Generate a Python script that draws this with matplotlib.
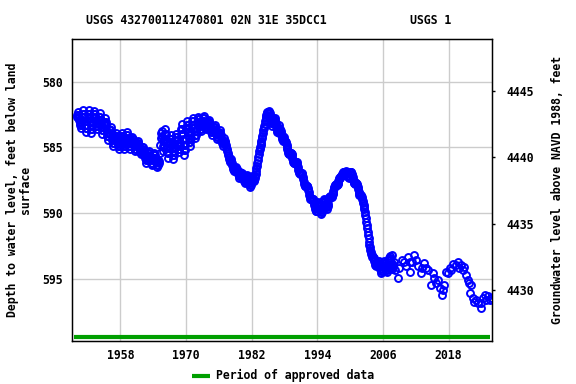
#!/usr/bin/env python3
# -*- coding: utf-8 -*-
"""
USGS groundwater level chart for site 432700112470801 (02N 31E 35DCC1).
Depth to water (left, inverted) with the matching NAVD 1988 elevation on the right.
"""

import numpy as np
import matplotlib.pyplot as plt

# ---- data ----
# 1950-2007: dense record, monthly readings Jan..Dec, one row per year (feet below land surface)
dense_start_year = 1950
monthly_depth = [
    582.71, 582.50, 582.30, 582.50, 582.71, 582.91, 583.11, 583.32, 583.52, 583.32, 583.11, 582.91,  # 1950
    582.71, 582.43, 582.15, 582.43, 582.71, 582.99, 583.26, 583.54, 583.82, 583.54, 583.26, 582.99,  # 1951
    582.73, 582.44, 582.15, 582.44, 582.73, 583.03, 583.32, 583.61, 583.90, 583.61, 583.32, 583.03,  # 1952
    582.68, 582.46, 582.23, 582.46, 582.68, 582.91, 583.14, 583.36, 583.59, 583.36, 583.14, 582.91,  # 1953
    582.91, 582.65, 582.38, 582.65, 582.91, 583.18, 583.44, 583.71, 583.97, 583.71, 583.44, 583.18,  # 1954
    583.32, 583.04, 582.76, 583.04, 583.32, 583.60, 583.87, 584.15, 584.43, 584.15, 583.87, 583.60,  # 1955
    583.92, 583.68, 583.44, 583.68, 583.92, 584.17, 584.41, 584.65, 584.89, 584.65, 584.41, 584.17,  # 1956
    584.30, 584.10, 583.90, 584.10, 584.30, 584.51, 584.71, 584.91, 585.11, 584.91, 584.71, 584.51,  # 1957
    584.30, 584.10, 583.90, 584.10, 584.30, 584.51, 584.71, 584.91, 585.11, 584.91, 584.71, 584.51,  # 1958
    584.25, 584.04, 583.82, 584.04, 584.25, 584.47, 584.68, 584.90, 585.11, 584.90, 584.68, 584.47,  # 1959
    584.56, 584.38, 584.20, 584.38, 584.56, 584.74, 584.91, 585.09, 585.27, 585.09, 584.91, 584.74,  # 1960
    584.84, 584.67, 584.51, 584.67, 584.84, 585.00, 585.16, 585.33, 585.49, 585.33, 585.16, 585.00,  # 1961
    585.37, 585.16, 584.96, 585.16, 585.37, 585.57, 585.77, 585.98, 586.18, 585.98, 585.77, 585.57,  # 1962
    585.62, 585.45, 585.27, 585.45, 585.62, 585.80, 585.98, 586.15, 586.33, 586.15, 585.98, 585.80,  # 1963
    585.77, 585.60, 585.42, 585.60, 585.77, 585.95, 586.13, 586.30, 586.48, 586.30, 586.13, 585.95,  # 1964
    586.18, 586.00, 585.40, 584.80, 584.30, 583.90, 583.75, 584.10, 584.50, 584.90, 585.30, 585.00,  # 1965
    584.33, 583.96, 583.59, 583.96, 584.33, 584.70, 585.06, 585.43, 585.80, 585.43, 585.06, 584.70,  # 1966
    584.66, 584.35, 584.05, 584.35, 584.66, 584.96, 585.26, 585.57, 585.87, 585.57, 585.26, 584.96,  # 1967
    584.43, 584.20, 583.97, 584.20, 584.43, 584.66, 584.88, 585.11, 585.34, 585.11, 584.88, 584.66,  # 1968
    584.00, 583.60, 583.21, 583.60, 584.00, 584.39, 584.78, 585.18, 585.57, 585.18, 584.78, 584.39,  # 1969
    583.62, 583.31, 582.99, 583.31, 583.62, 583.94, 584.26, 584.57, 584.89, 584.57, 584.26, 583.94,  # 1970
    583.27, 583.01, 582.76, 583.01, 583.27, 583.52, 583.77, 584.03, 584.28, 584.03, 583.77, 583.52,  # 1971
    583.04, 582.86, 582.68, 582.86, 583.04, 583.21, 583.39, 583.57, 583.75, 583.57, 583.39, 583.21,  # 1972
    582.96, 582.80, 582.64, 582.80, 582.96, 583.12, 583.27, 583.43, 583.59, 583.43, 583.27, 583.12,  # 1973
    583.29, 583.10, 582.91, 583.10, 583.29, 583.48, 583.67, 583.86, 584.05, 583.86, 583.67, 583.48,  # 1974
    583.64, 583.47, 583.29, 583.47, 583.64, 583.82, 584.00, 584.17, 584.35, 584.17, 584.00, 583.82,  # 1975
    584.08, 583.87, 583.67, 583.87, 584.08, 584.28, 584.48, 584.69, 584.89, 584.69, 584.48, 584.28,  # 1976
    584.50, 584.60, 584.70, 584.80, 584.95, 585.10, 585.25, 585.40, 585.55, 585.70, 585.85, 586.00,  # 1977
    586.10, 585.95, 585.90, 586.05, 586.20, 586.35, 586.50, 586.65, 586.80, 586.70, 586.60, 586.55,  # 1978
    586.76, 586.62, 586.48, 586.62, 586.76, 586.90, 587.04, 587.18, 587.32, 587.18, 587.04, 586.90,  # 1979
    587.19, 587.07, 586.94, 587.07, 587.19, 587.32, 587.45, 587.57, 587.70, 587.57, 587.45, 587.32,  # 1980
    587.39, 587.24, 587.09, 587.24, 587.39, 587.55, 587.70, 587.85, 588.00, 587.85, 587.70, 587.55,  # 1981
    587.20, 587.30, 587.40, 587.50, 587.55, 587.45, 587.30, 587.15, 587.00, 586.80, 586.60, 586.40,  # 1982
    586.20, 585.95, 585.70, 585.50, 585.30, 585.15, 585.00, 584.85, 584.70, 584.50, 584.30, 584.10,  # 1983
    583.90, 583.70, 583.50, 583.35, 583.20, 583.00, 582.80, 582.65, 582.50, 582.40, 582.30, 582.30,  # 1984
    582.61, 582.42, 582.23, 582.42, 582.61, 582.80, 582.99, 583.18, 583.37, 583.18, 582.99, 582.80,  # 1985
    583.11, 582.94, 582.76, 582.94, 583.11, 583.29, 583.47, 583.64, 583.82, 583.64, 583.47, 583.29,  # 1986
    583.90, 583.74, 583.59, 583.74, 583.90, 584.05, 584.20, 584.36, 584.51, 584.36, 584.20, 584.40,  # 1987
    584.50, 584.53, 584.55, 584.67, 584.80, 584.98, 585.15, 585.30, 585.45, 585.47, 585.50, 585.45,  # 1988
    585.40, 585.40, 585.40, 585.50, 585.60, 585.78, 585.95, 586.07, 586.20, 586.20, 586.20, 586.15,  # 1989
    586.10, 586.10, 586.10, 586.23, 586.35, 586.52, 586.70, 586.83, 586.95, 586.97, 587.00, 586.98,  # 1990
    586.95, 586.97, 587.00, 587.13, 587.25, 587.42, 587.60, 587.75, 587.90, 587.93, 587.95, 587.92,  # 1991
    587.90, 587.93, 587.95, 588.10, 588.25, 588.42, 588.60, 588.75, 588.90, 588.93, 588.95, 588.92,  # 1992
    588.90, 588.93, 588.95, 589.07, 589.20, 589.38, 589.55, 589.67, 589.80, 589.80, 589.80, 589.60,  # 1993
    589.44, 589.29, 589.14, 589.29, 589.44, 589.60, 589.75, 589.90, 590.05, 589.90, 589.75, 589.60,  # 1994
    589.16, 589.04, 588.91, 589.04, 589.16, 589.29, 589.42, 589.54, 589.67, 589.54, 589.42, 589.29,  # 1995
    589.00, 588.87, 588.75, 588.73, 588.70, 588.72, 588.75, 588.73, 588.70, 588.57, 588.45, 588.28,  # 1996
    588.10, 587.97, 587.85, 587.83, 587.80, 587.82, 587.85, 587.83, 587.80, 587.67, 587.55, 587.40,  # 1997
    587.35, 587.30, 587.25, 587.20, 587.15, 587.10, 587.05, 587.00, 586.95, 586.90, 586.85, 586.90,  # 1998
    586.97, 586.88, 586.79, 586.88, 586.97, 587.05, 587.14, 587.23, 587.32, 587.23, 587.14, 587.05,  # 1999
    586.90, 586.90, 586.90, 587.00, 587.10, 587.28, 587.45, 587.57, 587.70, 587.73, 587.75, 587.72,  # 2000
    587.70, 587.73, 587.75, 587.87, 588.00, 588.18, 588.35, 588.47, 588.60, 588.63, 588.65, 588.62,  # 2001
    588.70, 588.80, 588.90, 589.05, 589.20, 589.35, 589.50, 589.70, 589.90, 590.15, 590.40, 590.65,  # 2002
    590.90, 591.15, 591.40, 591.65, 591.90, 592.15, 592.40, 592.60, 592.80, 592.95, 593.10, 593.20,  # 2003
    593.30, 593.30, 593.30, 593.40, 593.50, 593.65, 593.80, 593.90, 594.00, 593.95, 593.90, 593.90,  # 2004
    593.93, 593.78, 593.63, 593.78, 593.93, 594.09, 594.24, 594.39, 594.54, 594.39, 594.24, 594.09,  # 2005
    593.91, 593.77, 593.63, 593.77, 593.91, 594.05, 594.19, 594.33, 594.47, 594.33, 594.19, 594.05,  # 2006
    593.58, 593.42, 593.25, 593.42, 593.58, 593.74, 593.90, 594.07, 594.23, 594.07, 593.90, 593.74,  # 2007
]

# 2007-2025: sparser measurements (decimal year, depth)
recent_dates = [2007.6, 2007.9, 2008.3, 2008.7, 2009.0, 2009.4, 2009.8, 2010.2, 2010.5, 2010.9,
                2011.0, 2011.4, 2011.7, 2012.1, 2012.5, 2012.9, 2013.2, 2013.5, 2013.9, 2014.3,
                2014.8, 2015.1, 2015.4, 2015.7, 2016.1, 2016.5, 2016.8, 2016.9, 2017.2, 2017.6,
                2017.9, 2018.2, 2018.5, 2018.9, 2019.4, 2019.7, 2020.0, 2020.3, 2020.6, 2020.9,
                2021.2, 2021.5, 2021.8, 2021.9, 2022.1, 2022.4, 2022.7, 2023.1, 2023.4, 2023.9,
                2024.0, 2024.3, 2024.6, 2024.9, 2025.2, 2025.5, 2025.7]
recent_depth = [593.17, 593.93, 594.31, 594.92, 594.16, 593.55, 593.70, 594.01, 593.30, 593.70,
                594.44, 593.70, 593.17, 593.55, 594.01, 594.56, 594.16, 593.80, 594.16, 594.31,
                595.45, 594.56, 594.92, 595.32, 595.07, 595.68, 596.21, 595.83, 595.45, 594.44,
                594.56, 594.16, 594.31, 593.85, 593.93, 593.68, 594.16, 593.93, 594.31, 594.06,
                594.69, 595.07, 595.32, 596.08, 595.45, 596.44, 596.72, 596.59, 596.82, 596.84,
                597.22, 596.44, 596.21, 596.59, 596.29, 596.59, 596.44]

approved_period = [1949.55, 2025.6]      # start / end of approved record

year_ticks = [1958, 1970, 1982, 1994, 2006, 2018]
depth_ticks = [580, 585, 590, 595]
elev_ticks = [4430, 4435, 4440, 4445]

FONT = dict(family='DejaVu Sans Mono', weight='bold', size=8.3)


def build_series():
    """把月度密集记录和近期记录拼成一条时间序列"""
    n = len(monthly_depth)
    d_dates = dense_start_year + (np.arange(n) + 0.5) / 12.0   # mid-month dates
    dates = np.concatenate([d_dates, recent_dates])
    depths = np.concatenate([monthly_depth, recent_depth])
    return dates, depths


def plot_chart(dates, depths):
    fig = plt.figure(figsize=(5.76, 3.84), dpi=100)
    ax = fig.add_axes([0.1245, 0.1120, 0.7302, 0.7857])

    ax.set_xlim(1949.1, 2026.0)
    ax.set_ylim(599.71, 576.78)              # depth axis runs downward
    ax.set_xticks(year_ticks)
    ax.set_yticks(depth_ticks)
    ax.grid(True, color='#cccccc', linewidth=1.0)
    ax.set_axisbelow(True)

    ax.plot(dates, depths, linestyle='none', marker='o', markersize=5.0,
            markerfacecolor='none', markeredgecolor='#0000ff', markeredgewidth=1.4,
            zorder=3)

    # approved-data bar along the bottom of the plot
    ax.plot(approved_period, [599.42, 599.42], color='#009f00', linewidth=3.0,
            solid_capstyle='butt', zorder=4)

    for sp in ax.spines.values():
        sp.set_linewidth(1.0)
    ax.tick_params(axis='x', direction='in', length=0, pad=6)
    ax.tick_params(axis='y', direction='in', length=0, pad=6.5)
    for lab in ax.get_xticklabels() + ax.get_yticklabels():
        lab.set(**FONT)

    ax.set_ylabel('Depth to water level, feet below land\nsurface', **FONT,
                  linespacing=1.0, labelpad=7)

    # right axis: groundwater elevation
    ax2 = ax.twinx()
    ax2.set_ylim(4426.16, 4448.9)
    ax2.set_yticks(elev_ticks)
    ax2.tick_params(axis='y', direction='out', length=2.5, width=1.0, pad=8)
    for lab in ax2.get_yticklabels():
        lab.set(**FONT)
    ax2.set_ylabel('Groundwater level above NAVD 1988, feet', **FONT, labelpad=12)

    fig.text(86 / 576, 1 - 20 / 384, 'USGS 432700112470801 02N 31E 35DCC1',
             ha='left', va='center', **FONT)
    fig.text(410 / 576, 1 - 20 / 384, 'USGS 1', ha='left', va='center', **FONT)

    # legend
    fig.add_artist(plt.Line2D([192 / 576, 210 / 576], [1 - 375.5 / 384] * 2,
                              color='#009f00', linewidth=3.0, solid_capstyle='butt'))
    fig.text(216 / 576, 1 - 375.5 / 384, 'Period of approved data',
             ha='left', va='center', **FONT)

    fig.savefig('out.png', dpi=100)
    plt.close(fig)


def main():
    dates, depths = build_series()
    plot_chart(dates, depths)


if __name__ == "__main__":
    main()
